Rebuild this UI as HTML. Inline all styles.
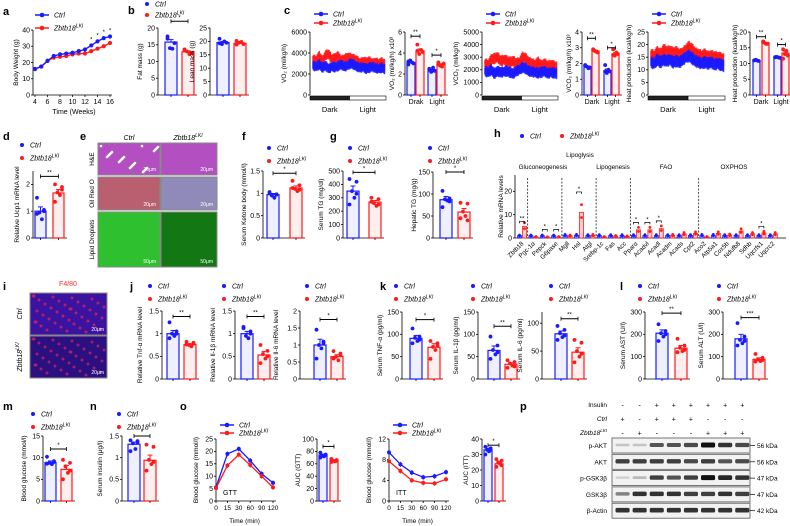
<!DOCTYPE html>
<html><head><meta charset="utf-8"><style>
html,body{margin:0;padding:0;background:#fff;}
svg{display:block;font-family:"Liberation Sans",Arial,sans-serif;}
</style></head><body>
<svg id="fig" width="790" height="526" viewBox="0 0 790 526" xmlns="http://www.w3.org/2000/svg"></svg>
<script>
// ---------- data ----------
const aWeeks=[4,5,6,7,8,9,10,11,12,13,14,15,16];
const aCtrl=[16,17.5,21,24,25,25.5,26,27,28,30.5,33,35,36];
const aKli=[16,17.5,21,23,23.5,24,25,25.5,25.5,27,28.5,30,32];
const fatVals=[15.8,12.9], fatPts=[[17.5,15.5,14,13.8,16.8],[13.3,12.5,13,12.2,13.6]];
const leanVals=[19.6,19.3], leanPts=[[21,19.5,19,20,19.3],[20.2,19,19.5,19.8,18.8]];
const vo2Ctrl=[2800,2700,2900,2600,2800,2500,2700,2650,2750,2900,2700,2800,3000,2900,2700,2600,2650,2500,2600,2700,2550,2500,2600,2450];
const vo2Kli=[3400,3300,3700,3200,3800,3900,3400,3500,3700,3300,3400,3600,3500,3400,3300,3000,3200,3100,3200,3000,3100,3000,3100,2900];
const vo2Bar=[3.1,4.2,2.4,2.9], vo2Pts=[[3.2,3.0,3.3,3.1,2.9],[4.8,4.1,3.9,4.3,4.2],[2.5,2.3,2.2,2.6,2.4],[2.9,3.0,2.8,2.7,3.1]];
const vco2Ctrl=[1900,1800,2000,1700,1900,1800,1850,1900,1800,1700,1900,2000,2200,2100,1900,1850,1800,1750,1800,1900,1700,1800,1750,1700];
const vco2Kli=[2500,2400,2800,2900,3000,2700,2800,2700,2600,2700,2500,2600,3000,2900,2600,2500,2400,2600,2300,2500,2300,2400,2300,2200];
const vco2Bar=[1.8,2.8,1.55,2.6], vco2Pts=[[1.9,1.75,1.8,1.7,1.85],[2.9,2.7,2.8,2.75,2.85],[1.9,1.5,1.4,1.6,1.5],[2.9,2.6,2.5,2.7,2.55]];
const heatCtrl=[13,12.5,14,13,14,13.5,14,13,13.5,13,14,15,15.5,14.5,13.5,13,12.5,13,12.5,13,12,12.5,12,11.5];
const heatKli=[16,15.5,17,16,18,17,17.5,16.5,17,16,16.5,18,19,18,16.5,16,15.5,16,15,15.5,15,15,14.5,14];
const heatBar=[10.9,16.5,11.9,13.3], heatPts=[[11,10.8,11.2,10.9,11],[17,16.3,16.5,16.2,16.8],[12,11.8,12.1,11.9,12],[14.5,12.5,13,14,11.5]];
const ucpVals=[1.0,1.68], ucpPts=[[1.5,1.0,0.95,0.7,0.9,1.05],[2.0,1.9,1.7,1.6,1.35,1.8]];
const ketVals=[0.97,1.12], ketPts=[[1.03,0.97,0.95,0.9,1.0,0.98],[1.28,1.18,1.1,1.05,1.12,1.08]];
const stgVals=[350,268], stgPts=[[440,420,350,300,250,330],[300,290,260,240,270,250]];
const htgVals=[87,59], htgPts=[[107,90,88,85,70,83],[80,78,60,50,45,40]];
const hGenes=["Zbtb18","Pgc-1α","Pepck","G6pase","Mgll","Hsl","Atgl","Srebp-1c","Fas","Acc","Pparα","Acadvl","Acadl","Acadm","Acads","Cpt2","Aco2","Atp5a1","Cox5b","Ndufb8","Sdhb","Uqcrfs1","Uqcrc2"];
const hCtrl=[1,1,1,1,1.2,1.2,1.1,1.1,1.1,1.1,1.1,1.1,1.1,1.1,1.1,1.1,1.2,1.2,1.1,1.1,1.1,1.1,1.1];
const hKli=[5,0.5,0.4,0.5,1,11,1.2,0.5,0.8,0.7,3.5,3.5,4,1.2,1.8,2,0.5,2,1.3,3,1.8,2.2,1.8];
const tnfVals=[1.0,0.76], tnfPts=[[1.25,1.05,1.0,0.95,0.9,1.0],[0.82,0.78,0.75,0.72,0.76,0.8]];
const il1Vals=[1.0,0.53], il1Pts=[[1.15,1.05,0.95,0.9,1.12,1.0],[0.75,0.62,0.55,0.45,0.35,0.5]];
const il6Vals=[1.0,0.66], il6Pts=[[1.45,1.05,1.0,0.9,0.6,1.1],[0.82,0.75,0.65,0.55,0.6,0.7]];
const stnfVals=[91,71], stnfPts=[[113,95,92,85,80,88],[85,80,72,65,45,75]];
const sil1Vals=[64,33], sil1Pts=[[95,75,65,55,45,60],[42,38,35,30,25,28]];
const sil6Vals=[81,48], sil6Pts=[[95,88,82,75,70,78],[70,65,50,40,30,45]];
const astVals=[205,138], astPts=[[245,215,205,190,170,200],[180,150,140,125,120,130]];
const altVals=[180,88], altPts=[[250,190,175,160,150,170],[112,95,88,80,78,85]];
const mVals=[8.9,7.3], mPts=[[10.2,9.2,8.8,8.5,8.6,9.0],[9.5,8.8,8.0,6.5,5.0,7.0]];
const nVals=[1.31,0.94], nPts=[[1.4,1.38,1.33,1.2,1.15,1.35],[1.3,1.25,0.95,0.85,0.7,0.9]];
const oTimes=[0,15,30,60,90,120];
const gttCtrl=[5.5,19,21,16.3,11,7.3], gttKli=[5.2,14.3,18.7,14.5,10,5.5];
const aucGtt=[74,65], aucGttPts=[[78,75,73,72,70,74],[68,66,65,64,63,65]];
const ittCtrl=[9.4,7.1,5.5,4.6,4.8,5.6], ittKli=[7.7,5.8,4.0,3.5,3.4,4.2];
const aucItt=[33,24], aucIttPts=[[35,34,33,32,30,33],[27,26,25,24,22,23]];
const blotRows=["p-AKT","AKT","p-GSK3β","GSK3β","β-Actin"];
const blotKda=["56 kDa","56 kDa","47 kDa","47 kDa","42 kDa"];
const blotInt=[[0.2,0.2,0.7,0.7,0.75,1,0.85,0.75],[0.8,0.8,0.8,0.8,0.75,0.8,0.7,0.75],[0.15,0.25,0.8,0.7,0.8,1,0.9,0.85],[0.5,0.85,0.85,0.85,0.8,0.8,0.85,0.8],[0.85,0.85,0.85,0.85,0.85,0.85,0.85,0.85]];
const insRow=["-","-","+","+","+","+","+","+"], ctrlRow=["+","-","+","+","+","-","-","-"], kliRow=["-","+","-","-","-","+","+","+"];

// ---------- helpers ----------
const NS="http://www.w3.org/2000/svg", svg=document.getElementById('fig');
const B="#1a1aff", R="#ff1a1a";
function el(tag,attrs,parent,txt){const e=document.createElementNS(NS,tag);for(const k in attrs)e.setAttribute(k,attrs[k]);if(txt!==undefined)e.textContent=txt;(parent||svg).appendChild(e);return e;}
function grp(name){const g=el('g',{});return g;}
function txt(g,x,y,s,o){o=o||{};const t=el('text',{x:x,y:y,'font-size':o.fs||7,'text-anchor':o.a||'start',fill:o.c||'#000','font-style':o.i?'italic':'normal','font-weight':o.b?'bold':'normal',transform:o.r?`rotate(${o.r} ${x} ${y})`:''},g,s);return t;}
function letter(s,x,y){const g=grp('panel-label-'+s);txt(g,x,y,s,{fs:11,b:1});}
function legend(g,x,y,line,sp,horiz){
  sp=sp||13;
  [[B,'Ctrl',0],[R,'Zbtb18',1]].forEach((d,i)=>{const yy=horiz?y:y+i*sp;const xx=horiz?x+i*40:x;
    if(line){el('line',{x1:xx,y1:yy,x2:xx+14,y2:yy,stroke:d[0],'stroke-width':1.5},g);el('circle',{cx:xx+7,cy:yy,r:2.3,fill:d[0]},g);}
    else el('circle',{cx:xx+3,cy:yy,r:2,fill:d[0]},g);
    const t=txt(g,xx+(line?19:11),yy+2.5,d[1],{i:1,fs:7});
    if(i){el('tspan',{dy:-3,'font-size':5},t,'LKI');}
  });}
function yAxis(g,x,top,bot,max,ticks,label,off){
  el('line',{x1:x,y1:top,x2:x,y2:bot,stroke:'#000','stroke-width':0.8},g);
  ticks.forEach(t=>{const y=bot-(t/max)*(bot-top);el('line',{x1:x-2,y1:y,x2:x,y2:y,stroke:'#000','stroke-width':0.8},g);txt(g,x-3,y+2.3,String(t),{a:'end',fs:7});});
  if(label){const ly=(top+bot)/2;txt(g,x-(off||17),ly,label,{a:'middle',r:-90,fs:6.5});}
}
function barPanel(name,cfg){
  const g=grp(name);const {ax,top,bot,max,ticks,label,off,vals,pts,bx,bw}=cfg;
  const sy=v=>bot-(v/max)*(bot-top);
  yAxis(g,ax,top,bot,max,ticks,label,off);
  el('line',{x1:ax,y1:bot,x2:bx[bx.length-1]+bw+3,y2:bot,stroke:'#000','stroke-width':0.8},g);
  vals.forEach((v,i)=>{const c=i%2?R:B;const x=bx[i];
    const b=el('rect',{x:x,y:sy(v),width:bw,height:bot-sy(v),fill:c==B?'#eef0ff':'#ffeeee',stroke:c,'stroke-width':1.2},g);
    
    el('line',{x1:x+bw/2,y1:bot,x2:x+bw/2,y2:bot+2,stroke:'#000','stroke-width':0.8},g);
    const p=pts[i];const sd=Math.max(...p)-Math.min(...p);
    el('line',{x1:x+bw/2,y1:sy(v+sd*0.2),x2:x+bw/2,y2:sy(v),stroke:c,'stroke-width':1},g);
    el('line',{x1:x+bw/2-2.5,y1:sy(v+sd*0.2),x2:x+bw/2+2.5,y2:sy(v+sd*0.2),stroke:c,'stroke-width':1},g);
    const js=Math.min(3.5,bw/3);
    p.forEach((pv,j)=>{const dx=[-1,1,-0.3,0.4,-1,1][j%6]*js;const d=el('circle',{cx:x+bw/2+dx,cy:sy(pv),r:1.9,fill:c},g);
      });
  });
  if(cfg.sig){cfg.sig.forEach(s=>{const x1=bx[s[0]]+bw/2,x2=bx[s[1]]+bw/2,y=sy(s[2]);
    el('line',{x1:x1,y1:y,x2:x2,y2:y,stroke:'#000','stroke-width':1},g);
    el('line',{x1:x1,y1:y-2,x2:x1,y2:y+2,stroke:'#000','stroke-width':0.8},g);el('line',{x1:x2,y1:y-2,x2:x2,y2:y+2,stroke:'#000','stroke-width':0.8},g);
    txt(g,(x1+x2)/2,y-2,s[3],{a:'middle',fs:6});});}
  if(cfg.cats)cfg.cats.forEach(c=>txt(g,c[0],bot+9,c[1],{a:'middle',fs:7}));
  return g;
}
function trace(name,cfg){
  const g=grp(name);const {ax,right,top,bot,max,ticks,label,ctrl,kli,err}=cfg;
  const sy=v=>bot-(v/max)*(bot-top);
  yAxis(g,ax,top,bot,max,ticks,label,cfg.off||22);
  const n=ctrl.length,step=(right-ax-4)/(n-1);
  [[kli,R],[ctrl,B]].forEach(([arr,c])=>{
    for(let i=0;i<n-1;i++){for(let k=0;k<6;k++){const t=k/6;const v=arr[i]*(1-t)+arr[i+1]*t;const x=ax+3+(i+t)*step;const e=err*(0.6+0.4*((i*7+k*3)%5)/4);
      el('line',{x1:x,y1:sy(v+e),x2:x,y2:sy(v-e),stroke:c,'stroke-width':1.6,opacity:0.85},g);}}
    el('polyline',{points:arr.map((v,i)=>`${ax+3+i*step},${sy(v)}`).join(' '),fill:'none',stroke:c,'stroke-width':1},g);
  });
  const mid=ax+(right-ax)*0.52;
  el('rect',{x:ax,y:bot+1,width:mid-ax,height:4,fill:'#222',stroke:'#000','stroke-width':0.6},g);
  el('rect',{x:mid,y:bot+1,width:right-mid,height:4,fill:'#fff',stroke:'#000','stroke-width':0.6},g);
  txt(g,(ax+mid)/2,bot+17,'Dark',{a:'middle',fs:7.5});txt(g,(mid+right)/2,bot+17,'Light',{a:'middle',fs:7.5});
  legend(g,ax+4,14,true,9);
}
function lineChart(name,cfg){
  const g=grp(name);const {ax,right,top,bot,max,ticks,label,ctrl,kli}=cfg;
  const sy=v=>bot-(v/max)*(bot-top);const sx=t=>ax+((oTimes.indexOf(t))/5)*(right-ax);
  yAxis(g,ax,top,bot,max,ticks,label,18);
  el('line',{x1:ax,y1:bot,x2:right+3,y2:bot,stroke:'#000','stroke-width':0.8},g);
  oTimes.forEach(t=>{const x=sx(t);el('line',{x1:x,y1:bot,x2:x,y2:bot+2,stroke:'#000','stroke-width':0.8},g);txt(g,x,bot+9,String(t),{a:'middle',fs:6.5});});
  txt(g,(ax+right)/2,bot+22,'Time (min)',{a:'middle',fs:6.5});
  txt(g,ax+7,bot-6,cfg.tag,{fs:7});
  [[ctrl,B],[kli,R]].forEach(([arr,c])=>{
    el('polyline',{points:arr.map((v,i)=>`${sx(oTimes[i])},${sy(v)}`).join(' '),fill:'none',stroke:c,'stroke-width':1.3},g);
    arr.forEach((v,i)=>{const d=el('circle',{cx:sx(oTimes[i]),cy:sy(v),r:2,fill:c},g);
      el('line',{x1:sx(oTimes[i]),y1:sy(v)-2.5,x2:sx(oTimes[i]),y2:sy(v)+2.5,stroke:c,'stroke-width':0.8},g);});
  });
  legend(g,ax+4,top-14,true,8);
}

// ---------- Row 1 ----------
letter('a',3,15);
(function(){const g=grp('panel-a-body-weight');const top=30,bot=95,ax=35,max=40;
  const sy=v=>bot-(v/max)*(bot-top);const sx=w=>ax+(w-4)/12*75;
  yAxis(g,ax-2,top,bot,max,[0,10,20,30,40],'Body Weight (g)',15);
  el('line',{x1:ax-2,y1:bot,x2:112,y2:bot,stroke:'#000','stroke-width':0.8},g);
  aWeeks.forEach(w=>{if(w%2===0){el('line',{x1:sx(w),y1:bot,x2:sx(w),y2:bot+2,stroke:'#000','stroke-width':0.8},g);txt(g,sx(w),bot+9,String(w),{a:'middle',fs:7});}});
  txt(g,74,114,'Time (Weeks)',{a:'middle',fs:7});
  [[aKli,R],[aCtrl,B]].forEach(([arr,c])=>{el('polyline',{points:arr.map((v,i)=>`${sx(aWeeks[i])},${sy(v)}`).join(' '),fill:'none',stroke:c,'stroke-width':1.4},g);
    arr.forEach((v,i)=>{const d=el('circle',{cx:sx(aWeeks[i]),cy:sy(v),r:2.1,fill:c},g);});});
  [13,14,15,16].forEach(w=>txt(g,sx(w),sy(aCtrl[w-4])-4,'*',{a:'middle',fs:6}));
  legend(g,35,15,true);
})();
letter('b',128,14);
{const g=grp('legend-b');legend(g,144,4,false,11);}
barPanel('panel-b-fat-mass',{ax:158,top:28,bot:95,max:20,ticks:[0,5,10,15,20],label:'Fat mass (g)',off:16,vals:fatVals,pts:fatPts,bx:[165,182],bw:12,sig:[[0,1,22,'*']]});
barPanel('panel-b-lean-mass',{ax:210,top:28,bot:95,max:25,ticks:[0,5,10,15,20,25],label:'Lean mass (g)',off:16,vals:leanVals,pts:leanPts,bx:[217,234],bw:12});
letter('c',284,14);
trace('panel-c-vo2-trace',{ax:310,right:386,top:32,bot:95,max:6000,ticks:[0,2000,4000,6000],label:'VO₂ (ml/kg/h)',off:24,ctrl:vo2Ctrl,kli:vo2Kli,err:500});
barPanel('panel-c-vo2-bar',{ax:405,top:32,bot:95,max:6,ticks:[0,2,4,6],label:'VO₂ (ml/kg/h) x10³',off:11,vals:vo2Bar,pts:vo2Pts,bx:[407,416,428,437],bw:8,sig:[[0,1,5.6,'**'],[2,3,3.8,'*']],cats:[[416,'Drak'],[437,'Light']]});
trace('panel-c-vco2-trace',{ax:482,right:558,top:32,bot:95,max:5000,ticks:[0,1000,2000,3000,4000,5000],label:'VCO₂ (ml/kg/h)',off:24,ctrl:vco2Ctrl,kli:vco2Kli,err:450});
barPanel('panel-c-vco2-bar',{ax:582,top:32,bot:95,max:4,ticks:[0,1,2,3,4],label:'VCO₂ (ml/kg/h) x10³',off:11,vals:vco2Bar,pts:vco2Pts,bx:[584,592,604,612],bw:7,sig:[[0,1,3.6,'**'],[2,3,3.0,'*']],cats:[[592,'Dark'],[612,'Light']]});
trace('panel-c-heat-trace',{ax:648,right:725,top:32,bot:95,max:25,ticks:[0,5,10,15,20,25],label:'Heat production (kcal/kg/h)',off:17,ctrl:heatCtrl,kli:heatKli,err:2.5});
barPanel('panel-c-heat-bar',{ax:750,top:32,bot:95,max:20,ticks:[0,5,10,15,20],label:'Heat production (kcal/kg/h)',off:13,vals:heatBar,pts:heatPts,bx:[753,762,774,782],bw:7,sig:[[0,1,18.5,'**'],[2,3,16,'*']],cats:[[761,'Dark'],[781,'Light']]});

// ---------- Row 2 ----------
letter('d',3,140);
{const g=grp('legend-d');legend(g,19,145,false);}
barPanel('panel-d-ucp1',{ax:33,top:171,bot:238,max:2.5,ticks:[0,1,2],label:'Relative Ucp1 mRNA level',off:14,vals:ucpVals,pts:ucpPts,bx:[35,53],bw:11,sig:[[0,1,2.3,'**']]});
letter('e',80,140);
(function(){const g=grp('panel-e-histology');
  txt(g,129,140,'Ctrl',{a:'middle',i:1,fs:7});const t=txt(g,188,140,'Zbtb18',{a:'middle',i:1,fs:7});el('tspan',{dy:-3,'font-size':5},t,'LKI');
  const cols=[98,161],w=[62,56];const rows=[[143,32,'#b34fc0','H&E'],[177,33,'#b96070','Oil Red O'],[212,55,'#2fc02f','Lipid Droplets']];
  rows.forEach((r,ri)=>{cols.forEach((x,ci)=>{const c=ri==1&&ci==1?'#8f8ab8':(ri==2&&ci==1?'#137813':r[2]);
    const im=el('rect',{x:x,y:r[0],width:w[ci],height:r[1],fill:c,stroke:'#888','stroke-width':1},g);
    if(ri==0&&ci==0){for(let i=0;i<30;i++)el('circle',{cx:x+3+(i*23)%58,cy:r[0]+3+(i*11)%27,r:1.3,fill:'#fff'},g);}
    txt(g,x+w[ci]-4,r[0]+r[1]-4,ri==2?'50μm':'20μm',{a:'end',fs:5,c:'#fff'});});
    txt(g,94,r[0]+r[1]/2,r[3],{a:'middle',r:-90,fs:6.5});});
})();
letter('f',242,140);
{const g=grp('legend-f');legend(g,266,148,false);}
barPanel('panel-f-ketone',{ax:263,top:171,bot:238,max:1.5,ticks:[0,0.5,1.0,1.5],label:'Serum Ketone body (mmol/l)',off:17,vals:ketVals,pts:ketPts,bx:[267,290],bw:12,sig:[[0,1,1.45,'*']]});
letter('g',330,140);
{const g=grp('legend-g');legend(g,347,148,false);}
barPanel('panel-g-serum-tg',{ax:343,top:171,bot:238,max:500,ticks:[0,100,200,300,400,500],label:'Serum TG (mg/dl)',off:20,vals:stgVals,pts:stgPts,bx:[347,369],bw:12,sig:[[0,1,490,'*']]});
{const g=grp('legend-hepatic');legend(g,427,148,false);}
barPanel('panel-g-hepatic-tg',{ax:433,top:172,bot:238,max:150,ticks:[0,50,100,150],label:'Hepatic TG (mg/g)',off:17,vals:htgVals,pts:htgPts,bx:[440,458],bw:12,sig:[[0,1,150,'*']]});
letter('h',494,137);
(function(){const g=grp('panel-h-mrna');
  legend(g,519,136,false,0,true);
  const ax=515,top=175,bot=238,max=27,sy=v=>bot-(v/max)*(bot-top);
  yAxis(g,ax,top,bot,max,[0,10,20],'Relative mRNA levels',12);
  el('line',{x1:ax,y1:bot,x2:786,y2:bot,stroke:'#000','stroke-width':0.8},g);
  const sx=i=>522+i*11.4;
  hGenes.forEach((n,i)=>{const x=sx(i);
    [[hCtrl[i],B,-2.5],[hKli[i],R,2.5]].forEach(([v,c,dx])=>{const bb=el('rect',{x:x+dx-2,y:sy(v),width:4,height:bot-sy(v),fill:c==B?'#ccd':'#fcc',stroke:c,'stroke-width':0.8},g);
      
      el('circle',{cx:x+dx,cy:sy(v*1.3),r:1.4,fill:c},g);el('circle',{cx:x+dx,cy:sy(v*0.8),r:1.4,fill:c},g);});
    txt(g,x+2,bot+6,n,{a:'end',r:-45,fs:6.3});});
  [0.5,3.5,6.5,9.5,15.5].forEach(k=>el('line',{x1:sx(k),y1:178,x2:sx(k),y2:bot,stroke:'#000','stroke-width':0.7,'stroke-dasharray':'2,1.5'},g));
  txt(g,580,157,'Lipoglysis',{a:'middle',fs:6.3});txt(g,543,169,'Gluconeogenesis',{a:'middle',fs:6.3});txt(g,613,169,'Lipogenesis',{a:'middle',fs:6.3});txt(g,666,169,'FAO',{a:'middle',fs:6.3});txt(g,734,169,'OXPHOS',{a:'middle',fs:6.3});
  [[0,'**',hKli[0]],[2,'*',1.5],[3,'*',1.5],[5,'*',hKli[5]*1.6],[10,'*',hKli[10]*1.3],[11,'*',hKli[11]*1.3],[12,'*',hKli[12]*1.3],[21,'*',hKli[21]*1.3]].forEach(([i,s,v])=>{
    const y=sy(v)-5;el('path',{d:`M${sx(i)-2.5},${y+2}V${y}H${sx(i)+2.5}V${y+2}`,fill:'none',stroke:'#000','stroke-width':0.7},g);txt(g,sx(i),y-1,s,{a:'middle',fs:6});});
})();

// ---------- Row 3 ----------
letter('i',3,290);
(function(){const g=grp('panel-i-f480');txt(g,68,286,'F4/80',{a:'middle',fs:7,c:'#ff3030'});
  [[293,'Ctrl'],[336,'Zbtb18']].forEach(([y,l],k)=>{const r=el('rect',{x:30,y:y,width:77,height:42,fill:k?'#2a1080':'#3a14a0',stroke:'#888','stroke-width':1},g);
    
    for(let i=0;i<40;i++){el('circle',{cx:33+(i*37)%72,cy:y+3+(i*13)%37,r:1.5,fill:k?'#c0206a':'#d02060',opacity:0.8},g);}
    txt(g,104,y+38,'20μm',{a:'end',fs:5,c:'#fff'});const t=txt(g,22,y+21,l,{a:'middle',r:-90,i:1,fs:7});if(k)el('tspan',{dy:-3,'font-size':5},t,'LKI');});
})();
letter('j',130,290);
[['legend-j1',147],['legend-j2',221],['legend-j3',304]].forEach(([n,x])=>{const g=grp(n);legend(g,x,286,false);});
barPanel('panel-j-tnf',{ax:162,top:311,bot:379,max:1.5,ticks:[0,0.5,1.0,1.5],label:'Relative Tnf-α mRNA level',off:20,vals:tnfVals,pts:tnfPts,bx:[167,184],bw:12,sig:[[0,1,1.38,'**']]});
barPanel('panel-j-il1b',{ax:235,top:311,bot:379,max:1.5,ticks:[0,0.5,1.0,1.5],label:'Relative Il-1β mRNA level',off:20,vals:il1Vals,pts:il1Pts,bx:[241,258],bw:12,sig:[[0,1,1.38,'**']]});
barPanel('panel-j-il6',{ax:300,top:311,bot:379,max:2.0,ticks:[0,0.5,1.0,1.5,2.0],label:'Relative Il-6 mRNA level',off:22,vals:il6Vals,pts:il6Pts,bx:[314,331],bw:12,sig:[[0,1,1.75,'*']]});
letter('k',380,290);
[['legend-k1',393],['legend-k2',470],['legend-k3',548]].forEach(([n,x])=>{const g=grp(n);legend(g,x,286,false);});
barPanel('panel-k-tnf',{ax:402,top:312,bot:379,max:150,ticks:[0,50,100,150],label:'Serum TNF-α (pg/ml)',off:20,vals:stnfVals,pts:stnfPts,bx:[410,428],bw:12,sig:[[0,1,133,'*']]});
barPanel('panel-k-il1b',{ax:478,top:312,bot:379,max:150,ticks:[0,50,100,150],label:'Serum IL-1β (pg/ml)',off:20,vals:sil1Vals,pts:sil1Pts,bx:[488,505],bw:12,sig:[[0,1,118,'**']]});
barPanel('panel-k-il6',{ax:542,top:312,bot:379,max:120,ticks:[0,50,100],label:'Serum IL-6 (pg/ml)',off:20,vals:sil6Vals,pts:sil6Pts,bx:[555,572],bw:12,sig:[[0,1,108,'**']]});
letter('l',620,290);
[['legend-l1',637],['legend-l2',716]].forEach(([n,x])=>{const g=grp(n);legend(g,x,286,false);});
barPanel('panel-l-ast',{ax:645,top:312,bot:379,max:300,ticks:[0,100,200,300],label:'Serum AST (U/l)',off:20,vals:astVals,pts:astPts,bx:[656,675],bw:12,sig:[[0,1,295,'**']]});
barPanel('panel-l-alt',{ax:723,top:312,bot:379,max:300,ticks:[0,100,200,300],label:'Serum ALT (U/l)',off:20,vals:altVals,pts:altPts,bx:[735,753],bw:12,sig:[[0,1,275,'***']]});

// ---------- Row 4 ----------
letter('m',3,410);
{const g=grp('legend-m');legend(g,30,414,false);}
barPanel('panel-m-glucose',{ax:43,top:436,bot:501,max:15,ticks:[0,5,10,15],label:'Blood glucose (mmol/l)',off:17,vals:mVals,pts:mPts,bx:[45,61],bw:11,sig:[[0,1,12,'*']]});
letter('n',90,410);
{const g=grp('legend-n');legend(g,116,414,false);}
barPanel('panel-n-insulin',{ax:122,top:436,bot:501,max:1.5,ticks:[0,0.5,1.0,1.5],label:'Serum insulin (μg/l)',off:20,vals:nVals,pts:nPts,bx:[128,144],bw:12,sig:[[0,1,1.5,'*']]});
letter('o',180,410);
lineChart('panel-o-gtt',{ax:216,right:273,top:439,bot:501,max:25,ticks:[0,5,10,15,20,25],label:'Blood glucose (mmol/l)',ctrl:gttCtrl,kli:gttKli,tag:'GTT'});
barPanel('panel-o-auc-gtt',{ax:317,top:439,bot:501,max:100,ticks:[0,20,40,60,80,100],label:'AUC (GTT)',off:17,vals:aucGtt,pts:aucGttPts,bx:[319,330],bw:8,sig:[[0,1,88,'*']]});
lineChart('panel-o-itt',{ax:389,right:446,top:439,bot:501,max:12,ticks:[0,4,8,12],label:'Blood glucose (mmol/l)',ctrl:ittCtrl,kli:ittKli,tag:'ITT'});
barPanel('panel-o-auc-itt',{ax:482,top:439,bot:501,max:40,ticks:[0,10,20,30,40],label:'AUC (ITT)',off:14,vals:aucItt,pts:aucIttPts,bx:[484,495],bw:8,sig:[[0,1,36,'*']]});
letter('p',520,410);
(function(){const g=grp('panel-p-western-blot');const x0=614,lw=17.1;
  [[insRow,'Insulin',405],[ctrlRow,'Ctrl',419],[kliRow,'Zbtb18',433]].forEach(([row,l,y],k)=>{
    const t=txt(g,607,y+2,l,{a:'end',fs:6.5,i:k>0});if(k==2)el('tspan',{dy:-3,'font-size':4.5},t,'LKI');
    row.forEach((s,i)=>txt(g,x0+(i+0.5)*lw,y+2.5,s,{a:'middle',fs:7}));});
  blotRows.forEach((name,r)=>{const y=438+r*16.3;
    const box=el('rect',{x:x0-2,y:y,width:138,height:15,fill:'#f2f2f2',stroke:'#555','stroke-width':0.8},g);
    blotInt[r].forEach((v,i)=>{el('rect',{x:x0+i*lw+1.5,y:y+6-v*1.5,width:lw-3,height:2+v*3,rx:1.5,fill:'#111',opacity:v},g);});
    txt(g,607,y+10,name,{a:'end',fs:6.5});
    el('line',{x1:x0+136,y1:y+7.5,x2:x0+141,y2:y+7.5,stroke:'#000','stroke-width':0.7},g);
    txt(g,x0+143,y+10,blotKda[r],{fs:6.5});});
})();
</script>
</body></html>
